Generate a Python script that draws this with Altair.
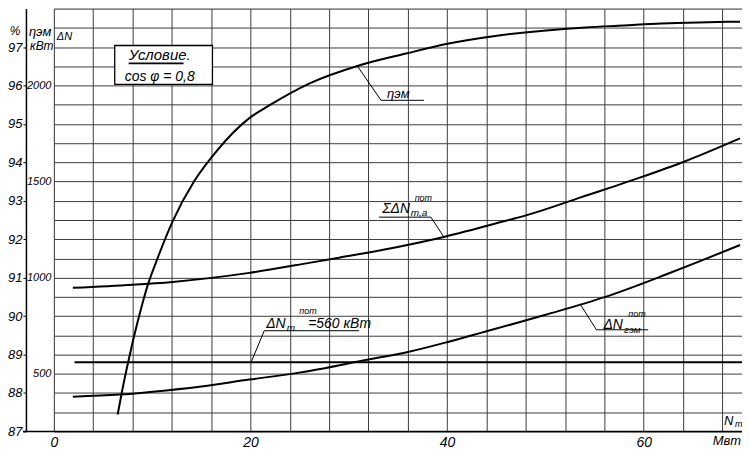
import altair as alt
import pandas as pd

FONT = "'Liberation Sans', 'DejaVu Sans', sans-serif"
GRID = "#3c3c3c"

# --- data ---
# efficiency curve eta_em (%), x = N_t (MW)
eta_x = [6.49, 6.9, 7.51, 8.01, 9.03, 9.54, 10.42, 12.07, 14.3, 16.64, 19.88, 21.9,
         25.97, 31.04, 35.81, 40.17, 45.25, 54.07, 57.93, 61.78, 65.54, 69.8]
eta_y = [87.44, 88.0, 88.75, 89.32, 90.35, 90.8, 91.42, 92.46, 93.52, 94.32, 95.15, 95.48,
         96.05, 96.52, 96.83, 97.09, 97.30, 97.51, 97.56, 97.61, 97.64, 97.66]
# total losses  sum dN_t,a (kW)
sum_x = [1.93, 8.01, 12.07, 19.88, 25.97, 29.0, 33.38, 39.67, 46.26, 48.29,
         53.67, 59.75, 64.22, 69.8]
sum_y = [947, 963, 978, 1025, 1077, 1104, 1144, 1212, 1300, 1328,
         1419, 1523, 1606, 1725]
# generator losses dN_gem (kW)
gem_x = [1.93, 6.7, 10.04, 14.81, 19.88, 24.96, 31.86, 36.12, 40.17, 43.52, 50.02,
         56.1, 62.19, 65.54, 69.8]
gem_y = [381, 392, 407, 433, 470, 506, 573, 615, 667, 714, 807,
         900, 1015, 1082, 1170]
# turbine losses constant 560 kW
nt_x = [2.1, 70]
nt_y = [560, 560]

x_grid = list(range(0, 71, 2))
dn_grid = list(range(200, 2401, 100))
eta_ticks = list(range(87, 98))

# --- scales / axes ---
X = alt.X("x:Q", scale=alt.Scale(domain=[0, 70], nice=False, zero=False),
          axis=alt.Axis(values=x_grid, grid=True, gridColor=GRID, gridWidth=1,
                        ticks=False, domain=False, labelOverlap=False, labelFlush=False,
                        labelExpr="datum.value % 10 == 0 && datum.value <= 60 ? datum.label : ''",
                        labelFont=FONT, labelFontStyle="italic", labelFontSize=14,
                        labelColor="black", labelPadding=4, title=None))

dn_scale = alt.Scale(domain=[200, 2400], nice=False, zero=False)


def ydn(axis=None):
    return alt.Y("y:Q", scale=dn_scale, axis=axis)


dn_axis = alt.Axis(orient="left", offset=0, values=dn_grid, grid=True, gridColor=GRID,
                   gridWidth=1, domain=False, ticks=False, labelOverlap=False,
                   labelFlush=False, format="d",
                   labelExpr="datum.value % 500 == 0 ? datum.label : ''",
                   labelFont=FONT, labelFontStyle="italic", labelFontSize=11,
                   labelColor="black", labelPadding=3, title=None)

eta_axis = alt.Axis(orient="left", offset=28, values=eta_ticks, grid=False, domain=True,
                    domainColor="black", domainWidth=1.5, ticks=True, tickSize=3,
                    tickColor="black", labelOverlap=False, labelFlush=False,
                    labelFont=FONT, labelFontStyle="italic", labelFontSize=13,
                    labelColor="black", labelPadding=1, title=None)

eta_df = pd.DataFrame({"x": eta_x, "eta": eta_y})
eta_line = alt.Chart(eta_df).mark_line(color="black", strokeWidth=2, interpolate="monotone").encode(
    x=X,
    y=alt.Y("eta:Q", scale=alt.Scale(domain=[87, 98], nice=False, zero=False), axis=eta_axis),
)

sum_df = pd.DataFrame({"x": sum_x, "y": sum_y})
sum_line = alt.Chart(sum_df).mark_line(color="black", strokeWidth=2, interpolate="monotone").encode(
    x=X, y=ydn(dn_axis))

gem_df = pd.DataFrame({"x": gem_x, "y": gem_y})
gem_line = alt.Chart(gem_df).mark_line(color="black", strokeWidth=2, interpolate="monotone").encode(
    x=alt.X("x:Q"), y=ydn())

nt_df = pd.DataFrame({"x": nt_x, "y": nt_y})
nt_line = alt.Chart(nt_df).mark_line(color="black", strokeWidth=1.8).encode(
    x=alt.X("x:Q"), y=ydn())

box_df = pd.DataFrame({"x": [6.19], "x2": [16.13], "y": [2006], "y2": [2208]})
box = alt.Chart(box_df).mark_rect(fill="white", stroke="black", strokeWidth=1.3).encode(
    x=alt.X("x:Q"), x2="x2:Q", y=ydn(), y2="y2:Q")

# leader lines, underlines, bottom axis line
rules_df = pd.DataFrame({
    "x":  [30.84, 33.28, 33.07, 38.35, 21.4, 21.4, 53.57, 55.19, 7.61, -3.14],
    "x2": [33.28, 37.64, 38.35, 39.67, 20.09, 31.04, 55.19, 60.46, 13.19, 70],
    "y":  [2104, 1923, 1315, 1315, 724, 724, 860, 729, 2115, 200],
    "y2": [1923, 1923, 1315, 1212, 563, 724, 729, 729, 2115, 200],
    "w":  [1, 1, 1, 1, 1, 1, 1, 1, 1.6, 1.5],
})
rules = alt.Chart(rules_df).mark_rule(color="black").encode(
    x=alt.X("x:Q"), x2="x2:Q", y=ydn(), y2="y2:Q",
    strokeWidth=alt.StrokeWidth("w:Q", scale=None, legend=None))

text_df = pd.DataFrame({
    "text": ["%", "ηэм", "кВт", "ΔN", "Условие", ".", "cos φ = 0,8",
             "ηэм", "ΣΔN", "т,а", "пот", "ΔN", "т", "пот", "=560 кВт",
             "ΔN", "гэм", "пот", "N", "т"],
    "x": [-4.5, -2.54, -2.43, 0.3, 7.61, 13.5, 7.2,
          33.9, 33.4, 36.3, 36.7, 21.6, 23.7, 24.96, 25.87,
          55.9, 58.0, 58.43, 68.17, 69.3],
    "y": [2262, 2255, 2187, 2239, 2135, 2135, 2021,
          1933, 1336, 1321, 1398, 740, 724, 812, 740,
          734, 714, 797, 236, 221],
    "size": [12, 13, 12, 11, 15, 15, 14,
             13, 14, 10, 9, 14, 10, 9, 14,
             14, 10, 9, 13, 9],
})
texts = alt.Chart(text_df).mark_text(align="left", baseline="alphabetic", font=FONT,
                                     fontStyle="italic", color="black").encode(
    x=alt.X("x:Q"), y=ydn(), text="text:N",
    size=alt.Size("size:Q", scale=None, legend=None))

unit_df = pd.DataFrame({"text": ["Мвт"], "x": [69.9], "y": [127]})
unit = alt.Chart(unit_df).mark_text(align="right", baseline="alphabetic", font=FONT,
                                    fontStyle="italic", fontSize=13, color="black").encode(
    x=alt.X("x:Q"), y=ydn(), text="text:N")

chart = alt.layer(
    eta_line, sum_line, gem_line, nt_line, box, rules, texts, unit
).resolve_scale(y="independent").properties(
    width=690, height=424,
    autosize=alt.AutoSizeParams(type="none"),
    padding={"left": 46, "top": 0, "right": 0, "bottom": 18},
).configure_view(stroke=None).configure(background="white")

chart.save("out.html", embed_options={"renderer": "svg", "actions": False})
